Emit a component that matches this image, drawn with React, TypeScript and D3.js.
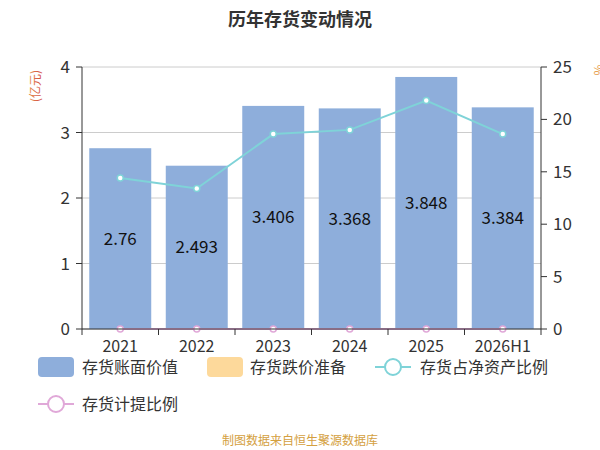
import React from "react";
import * as d3 from "d3";

const categories = ["2021", "2022", "2023", "2024", "2025", "2026H1"];
const bookValue = [2.76, 2.493, 3.406, 3.368, 3.848, 3.384];
const ratio = [14.4, 13.4, 18.6, 19.0, 21.8, 18.6];
const provisionRatio = [0, 0, 0, 0, 0, 0];
const leftTicks = [0, 1, 2, 3, 4];
const rightTicks = [0, 5, 10, 15, 20, 25];

export default function App() {
  const L = 82, R = 541, T = 67, B = 329;
  const x = d3.scaleBand<string>().domain(categories).range([L, R]).paddingInner(0.19).paddingOuter(0.095);
  const xs = d3.scaleBand<string>().domain(categories).range([L, R]);
  const y = d3.scaleLinear().domain([0, 4]).range([B, T]);
  const y2 = d3.scaleLinear().domain([0, 25]).range([B, T]);
  const cx = (c: string) => xs(c)! + xs.bandwidth() / 2;
  const line = d3.line<number>().x((_, i) => cx(categories[i])).y((d) => y2(d));
  const font = "'Noto Sans CJK SC', 'Noto Sans', sans-serif";
  return (
    <svg width={600} height={450} style={{ position: "absolute", left: 0, top: 0 }} fontFamily={font}>
      <defs>
        <linearGradient id="lg" x1="0" y1="0" x2="0" y2="1">
          <stop offset="0" stopColor="#e8a050" />
          <stop offset="1" stopColor="#d04040" />
        </linearGradient>
      </defs>
      <text x={300} y={26} textAnchor="middle" fontSize={18} fontWeight="bold" fill="#333">历年存货变动情况</text>
      {leftTicks.map((t) => (
        <line key={t} x1={L} x2={R} y1={y(t)} y2={y(t)} stroke="#ccc" strokeWidth={1} />
      ))}
      {categories.map((c, i) => (
        <g key={c}>
          <rect x={x(c)} y={y(bookValue[i])} width={x.bandwidth()} height={B - y(bookValue[i])} fill="#8eaedb" />
          <text x={cx(c)} y={(y(bookValue[i]) + B) / 2 + 6} textAnchor="middle" fontSize={17} fill="#111">{bookValue[i]}</text>
        </g>
      ))}
      <path d={line(ratio)!} fill="none" stroke="#7fd3d8" strokeWidth={2} />
      {ratio.map((v, i) => <circle key={i} cx={cx(categories[i])} cy={y2(v)} r={3} fill="#fff" stroke="#7fd3d8" strokeWidth={1.5} />)}
      <path d={line(provisionRatio)!} fill="none" stroke="#e0a8d8" strokeWidth={2} />
      {provisionRatio.map((v, i) => <circle key={i} cx={cx(categories[i])} cy={y2(v)} r={3} fill="#fff" stroke="#e0a8d8" strokeWidth={1.5} />)}
      <line x1={L} x2={L} y1={T} y2={B} stroke="#333" />
      {leftTicks.map((t) => (
        <g key={t}>
          <line x1={L - 6} x2={L} y1={y(t)} y2={y(t)} stroke="#333" />
          <text x={L - 12} y={y(t) + 6} textAnchor="end" fontSize={17} fill="#333">{t}</text>
        </g>
      ))}
      <line x1={R} x2={R} y1={T} y2={B} stroke="#333" />
      {rightTicks.map((t) => (
        <g key={t}>
          <line x1={R} x2={R + 6} y1={y2(t)} y2={y2(t)} stroke="#333" />
          <text x={R + 12} y={y2(t) + 6} textAnchor="start" fontSize={17} fill="#333">{t}</text>
        </g>
      ))}
      <line x1={L} x2={R} y1={B} y2={B} stroke="#333" />
      {[...categories.map((c) => xs(c)!), R].map((v, i) => (
        <line key={i} x1={v} x2={v} y1={B} y2={B + 6} stroke="#333" />
      ))}
      {categories.map((c) => (
        <text key={c} x={cx(c)} y={B + 23} textAnchor="middle" fontSize={16} fill="#333">{c}</text>
      ))}
      <text transform="translate(40,86) rotate(-90)" textAnchor="middle" fontSize={12} fill="url(#lg)">(亿元)</text>
      <text transform="translate(594,70) rotate(90)" textAnchor="middle" fontSize={12} fill="#e8a050">%</text>
      <g fontSize={16} fill="#333">
        <rect x={38} y={357} width={36} height={20} rx={4} fill="#8eaedb" />
        <text x={82} y={373}>存货账面价值</text>
        <rect x={207} y={357} width={36} height={20} rx={4} fill="#fdd99b" />
        <text x={250} y={373}>存货跌价准备</text>
        <line x1={375} x2={411} y1={367} y2={367} stroke="#7fd3d8" strokeWidth={2} />
        <circle cx={393} cy={367} r={8} fill="#fff" stroke="#7fd3d8" strokeWidth={2} />
        <text x={420} y={373}>存货占净资产比例</text>
        <line x1={38} x2={74} y1={404} y2={404} stroke="#e0a8d8" strokeWidth={2} />
        <circle cx={56} cy={404} r={8} fill="#fff" stroke="#e0a8d8" strokeWidth={2} />
        <text x={82} y={410}>存货计提比例</text>
      </g>
      <text x={300} y={445} textAnchor="middle" fontSize={12} fill="#d4a040">制图数据来自恒生聚源数据库</text>
    </svg>
  );
}
